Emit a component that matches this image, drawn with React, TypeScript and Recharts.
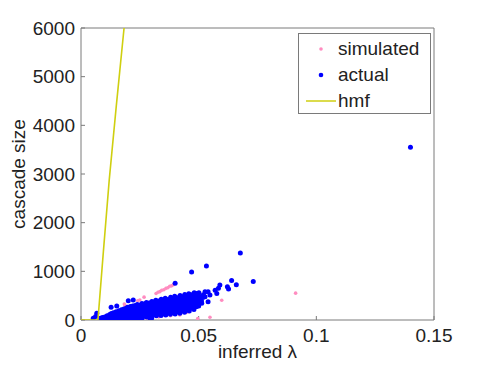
import { ScatterChart, Scatter, XAxis, YAxis, Legend } from 'recharts';

const xTicks = [0, 0.05, 0.1, 0.15];
const yTicks = [0, 1000, 2000, 3000, 4000, 5000, 6000];

// [inferred lambda, cascade size]
const simulatedPoints: [number, number][] = [
  [0.0184, 329], [0.0187, 300], [0.0241, 397], [0.025, 411], [0.0268, 470],
  [0.0258, 35], [0.018, 15], [0.022, 22], [0.028, 40], [0.033, 62],
  [0.038, 88], [0.042, 103], [0.045, 160], [0.0435, 273], [0.0496, 32],
  [0.0548, 58], [0.0598, 405], [0.0912, 552],
  [0.0319, 546], [0.0327, 570], [0.0335, 583], [0.0343, 610], [0.0352, 622],
  [0.0361, 650], [0.0369, 664], [0.0377, 693], [0.0385, 702], [0.0393, 726],
  [0.030, 150], [0.036, 220], [0.040, 300],
];

const actualPoints: [number, number][] = [
  // scattered points
  [0.14, 3550], [0.0677, 1375], [0.0533, 1110], [0.047, 988], [0.040, 754],
  [0.064, 812], [0.0732, 792], [0.066, 722], [0.0622, 684], [0.0627, 635],
  [0.059, 719], [0.0584, 650], [0.057, 612], [0.054, 580], [0.0527, 582],
  [0.0577, 546], [0.0548, 514], [0.0527, 480], [0.0506, 446], [0.0513, 345],
  [0.054, 376], [0.049, 343], [0.049, 275], [0.0201, 397], [0.0222, 410],
  [0.0128, 262], [0.0152, 288], [0.0067, 137], [0.0062, 70], [0.0052, 35],
  [0.030, 35], [0.0293, 40],
  // dense band
  [0.008, 0], [0.0082, 35], [0.009, 15], [0.0091, 50],
  [0.010, 0], [0.0101, 62], [0.011, 25], [0.0111, 85],
  [0.012, 5], [0.0119, 58], [0.0122, 112], [0.013, 30], [0.0131, 95], [0.0129, 135],
  [0.014, 10], [0.0141, 80], [0.0138, 150], [0.015, 40], [0.0151, 105], [0.0149, 170],
  [0.016, 0], [0.0162, 70], [0.0159, 130], [0.0161, 190],
  [0.017, 35], [0.0171, 100], [0.0169, 165], [0.0172, 210],
  [0.018, 20], [0.0181, 85], [0.0178, 160], [0.0182, 228],
  [0.019, 45], [0.0191, 110], [0.0189, 178], [0.0192, 240],
  [0.020, 5], [0.0199, 75], [0.0202, 140], [0.0201, 205], [0.0198, 262],
  [0.021, 40], [0.0211, 108], [0.0209, 175], [0.0212, 238], [0.021, 275],
  [0.022, 30], [0.0221, 95], [0.0219, 168], [0.0222, 232], [0.022, 290],
  [0.023, 55], [0.0231, 120], [0.0229, 185], [0.0232, 250], [0.023, 300],
  [0.024, 15], [0.0241, 85], [0.0238, 150], [0.0242, 215], [0.024, 275], [0.0239, 318],
  [0.025, 50], [0.0251, 118], [0.0249, 182], [0.0252, 248], [0.025, 305],
  [0.026, 40], [0.0261, 110], [0.0258, 178], [0.0262, 245], [0.026, 300], [0.0259, 338],
  [0.027, 75], [0.0271, 145], [0.0269, 212], [0.0272, 278], [0.027, 330],
  [0.028, 60], [0.0279, 125], [0.0282, 190], [0.028, 255], [0.0281, 315], [0.0278, 362],
  [0.029, 95], [0.0291, 168], [0.0289, 232], [0.0292, 295], [0.029, 350],
  [0.030, 75], [0.0301, 145], [0.0299, 210], [0.0302, 272], [0.030, 330], [0.0301, 382],
  [0.031, 110], [0.0311, 180], [0.0309, 245], [0.0312, 310], [0.031, 368],
  [0.032, 85], [0.0319, 155], [0.0322, 222], [0.032, 288], [0.0321, 350], [0.0318, 408],
  [0.033, 120], [0.0331, 190], [0.0329, 258], [0.0332, 322], [0.033, 388],
  [0.034, 95], [0.0341, 165], [0.0338, 235], [0.0342, 300], [0.034, 365], [0.0341, 428],
  [0.035, 130], [0.0351, 200], [0.0349, 268], [0.0352, 338], [0.035, 405],
  [0.036, 105], [0.0359, 178], [0.0362, 248], [0.036, 318], [0.0361, 388], [0.0358, 448],
  [0.037, 142], [0.0371, 212], [0.0369, 282], [0.0372, 352], [0.037, 420],
  [0.038, 118], [0.0381, 190], [0.0379, 262], [0.0382, 335], [0.038, 405], [0.0381, 468],
  [0.039, 155], [0.0391, 228], [0.0389, 298], [0.0392, 370], [0.039, 440],
  [0.040, 125], [0.0399, 200], [0.0402, 275], [0.040, 350], [0.0401, 420], [0.0398, 486],
  [0.041, 170], [0.0411, 245], [0.0409, 315], [0.0412, 388], [0.041, 458],
  [0.042, 140], [0.0421, 215], [0.0419, 292], [0.0422, 368], [0.042, 440], [0.0421, 505],
  [0.043, 190], [0.0431, 262], [0.0429, 335], [0.0432, 408], [0.043, 478],
  [0.044, 160], [0.0441, 235], [0.0439, 312], [0.0442, 390], [0.044, 460], [0.0441, 525],
  [0.045, 210], [0.0451, 282], [0.0449, 355], [0.0452, 428], [0.045, 500],
  [0.046, 185], [0.0461, 262], [0.0459, 340], [0.0462, 410], [0.046, 478], [0.0458, 540],
  [0.047, 240], [0.0471, 312], [0.0469, 385], [0.0472, 455], [0.047, 520],
  [0.048, 215], [0.0481, 290], [0.0479, 365], [0.0482, 435], [0.048, 500], [0.0481, 560],
  [0.049, 275], [0.0491, 345], [0.0489, 415], [0.0492, 485], [0.049, 545],
  [0.050, 290], [0.0499, 360], [0.0502, 430], [0.050, 500], [0.0501, 560],
  [0.0512, 390], [0.0518, 460], [0.052, 520],
];

const hmfPoints: [number, number][] = [
  [0, 0], [0.0072, 0], [0.0095, 1400], [0.012, 2880], [0.015, 4400], [0.0183, 6000],
];

const toRows = (pts: [number, number][]) => pts.map(([x, y]) => ({ x, y }));

const FONT = '"Liberation Sans", Arial, sans-serif';
const AXIS_GRAY = '#7a7a7a';
const PINK = '#ff8cc0';
const BLUE = '#0000ff';
const HMF = '#cfcf10';

const tickStyle = { fontSize: 19, fill: '#222', fontFamily: FONT };

function LegendBox() {
  const rows = [
    { name: 'simulated', kind: 'dot', color: PINK, r: 1.8 },
    { name: 'actual', kind: 'dot', color: BLUE, r: 2.3 },
    { name: 'hmf', kind: 'line', color: HMF, r: 0 },
  ];
  return (
    <div
      style={{
        width: 131,
        height: 79,
        border: `1px solid ${AXIS_GRAY}`,
        background: '#fff',
        position: 'relative',
        fontFamily: FONT,
        fontSize: 19,
        color: '#222',
      }}
    >
      {rows.map((row, i) => (
        <div
          key={row.name}
          style={{ position: 'absolute', left: 0, top: 3 + i * 26, height: 24, width: 131 }}
        >
          <svg width={40} height={24} style={{ position: 'absolute', left: 0, top: 0 }}>
            {row.kind === 'dot' ? (
              <circle cx={22} cy={12} r={row.r} fill={row.color} />
            ) : (
              <line x1={7} x2={37} y1={12} y2={12} stroke={row.color} strokeWidth={1.5} />
            )}
          </svg>
          <span style={{ position: 'absolute', left: 39, top: 0, lineHeight: '24px' }}>{row.name}</span>
        </div>
      ))}
    </div>
  );
}

export default function App() {
  return (
    <div style={{ position: 'absolute', left: 0, top: 0, background: '#fff' }}>
      <ScatterChart
        width={480}
        height={370}
        margin={{ top: 27, right: 45, bottom: 49, left: 80 }}
        style={{ fontFamily: FONT }}
      >
        <XAxis
          type="number"
          dataKey="x"
          domain={[0, 0.15]}
          ticks={xTicks}
          allowDataOverflow
          height={1}
          tickSize={-4}
          tickMargin={13}
          tick={tickStyle}
          stroke={AXIS_GRAY}
          tickFormatter={(v: number) => String(v)}
          label={{ value: 'inferred λ', position: 'bottom', offset: 24, style: { ...tickStyle, fill: '#222' } }}
        />
        <XAxis
          xAxisId="top"
          orientation="top"
          type="number"
          domain={[0, 0.15]}
          ticks={xTicks}
          allowDataOverflow
          height={1}
          tickSize={-4}
          tick={false}
          stroke={AXIS_GRAY}
        />
        <YAxis
          type="number"
          dataKey="y"
          domain={[0, 6000]}
          ticks={yTicks}
          allowDataOverflow
          width={1}
          tickSize={-4}
          tickMargin={10}
          tick={tickStyle}
          stroke={AXIS_GRAY}
          label={{
            value: 'cascade size',
            angle: -90,
            position: 'left',
            offset: 62,
            textAnchor: 'middle',
            style: { ...tickStyle, fill: '#222' },
          }}
        />
        <YAxis
          yAxisId="right"
          orientation="right"
          type="number"
          domain={[0, 6000]}
          ticks={yTicks}
          allowDataOverflow
          width={1}
          tickSize={-4}
          tick={false}
          stroke={AXIS_GRAY}
        />
        <Legend
          layout="vertical"
          align="center"
          verticalAlign="middle"
          content={() => <LegendBox />}
          wrapperStyle={{ left: 298, top: 33, width: 'auto', bottom: 'auto', right: 'auto' }}
        />
        <Scatter
          name="simulated"
          data={toRows(simulatedPoints)}
          isAnimationActive={false}
          shape={(p: any) => <circle cx={p.cx} cy={p.cy} r={1.8} fill={PINK} />}
        />
        <Scatter
          name="actual"
          data={toRows(actualPoints)}
          isAnimationActive={false}
          shape={(p: any) => <circle cx={p.cx} cy={p.cy} r={2.5} fill={BLUE} />}
        />
        <Scatter
          name="hmf"
          data={toRows(hmfPoints)}
          isAnimationActive={false}
          line={{ stroke: HMF, strokeWidth: 1.6 }}
          shape={() => <g />}
        />
      </ScatterChart>
    </div>
  );
}
